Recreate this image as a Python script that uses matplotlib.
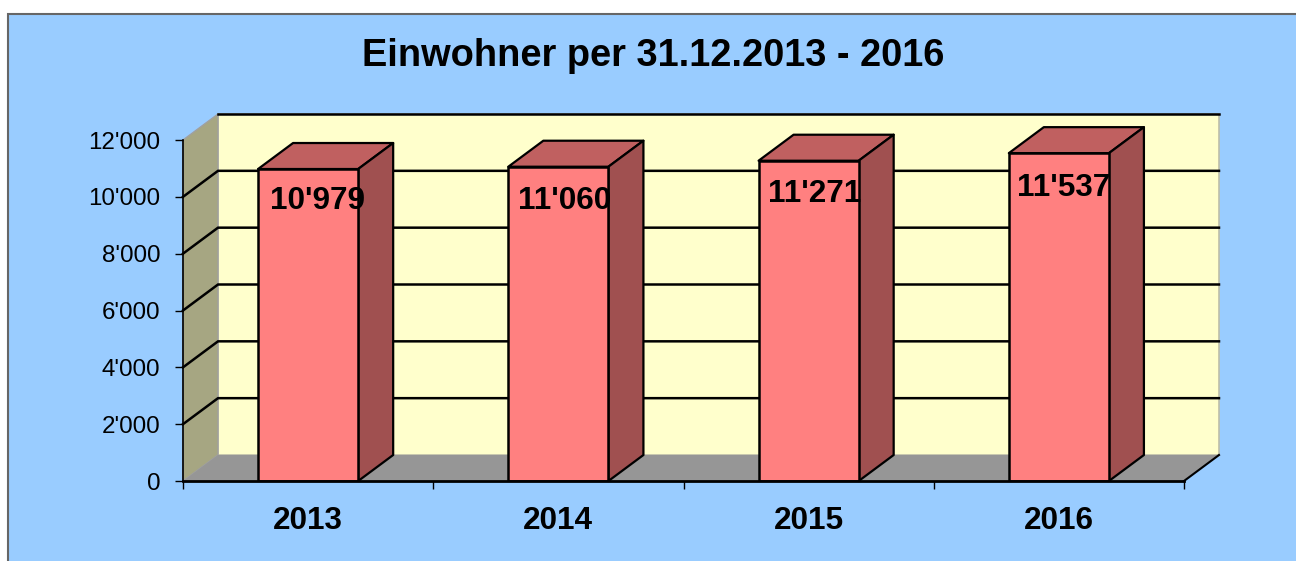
import matplotlib
matplotlib.use("Agg")
import matplotlib.pyplot as plt
from matplotlib.patches import Polygon, Rectangle
from matplotlib.ticker import FuncFormatter

plt.rcParams['font.family'] = ['Liberation Sans', 'DejaVu Sans']

jahre = ['2013', '2014', '2015', '2016']
einwohner = [10979, 11060, 11271, 11537]
werte_labels = ["10'979", "11'060", "11'271", "11'537"]
y_ticks = [0, 2000, 4000, 6000, 8000, 10000, 12000]
titel = "Einwohner per 31.12.2013 - 2016"

W, H = 1296, 561
fig = plt.figure(figsize=(W / 100, H / 100), dpi=100, facecolor='white')

# hintergrund mit rahmen
fig.add_artist(Rectangle((8 / W, -0.05), 1.1, 1 - 14 / H + 0.05, transform=fig.transFigure,
                         facecolor='#99CCFF', edgecolor='#666666', linewidth=1.5, zorder=-1))

ax = fig.add_axes([183 / W, (H - 481) / H, 1001 / W, 341 / H])
ax.patch.set_visible(False)
ax.set_xlim(0, 4)
ax.set_ylim(0, 12000)

# tiefe der 3d-darstellung in achseneinheiten
dx = 35 / 250.25
dy = 26 / 341 * 12000
breite = 0.4


def poly(pts, fc, ec='none', lw=0, z=1):
    ax.add_patch(Polygon(pts, closed=True, facecolor=fc, edgecolor=ec, linewidth=lw,
                         zorder=z, clip_on=False, joinstyle='round'))


# rueckwand, seitenwand, boden
poly([(dx, dy), (4 + dx, dy), (4 + dx, 12000 + dy), (dx, 12000 + dy)], '#FFFFCC', '#BEBEA8', 1.2, 1)
poly([(0, 0), (dx, dy), (dx, 12000 + dy), (0, 12000)], '#A6A682', '#A0A0A0', 1.0, 1.1)
poly([(0, 0), (4, 0), (4 + dx, dy), (dx, dy)], '#969696', z=1.2)

# gitterlinien
for v in y_ticks[1:-1]:
    ax.plot([0, dx, 4 + dx], [v, v + dy, v + dy], color='black', lw=1.8, zorder=2,
            clip_on=False, solid_joinstyle='miter')
ax.plot([dx, 4 + dx], [12000 + dy, 12000 + dy], color='black', lw=1.8, zorder=2, clip_on=False)
ax.plot([4, 4 + dx], [0, dy], color='black', lw=1.5, zorder=2, clip_on=False)

# saeulen
pos = [i + 0.5 for i in range(len(jahre))]
ax.bar(pos, einwohner, breite, color='#FF8080', edgecolor='black', linewidth=1.8, zorder=4)
for p, v in zip(pos, einwohner):
    l, r = p - breite / 2, p + breite / 2
    poly([(l, v), (r, v), (r + dx, v + dy), (l + dx, v + dy)], '#C06060', 'black', 1.6, 3.5)
    poly([(r, 0), (r + dx, dy), (r + dx, v + dy), (r, v)], '#A05050', 'black', 1.6, 3.5)

# labels sitzen nicht ganz regelmaessig, versatz in punkten
label_dx = [6.7, 4.2, 4.2, 3.1]
label_dy = [-23.0, -24.4, -23.7, -25.1]
for p, v, s, ox, oy in zip(pos, einwohner, werte_labels, label_dx, label_dy):
    ax.annotate(s, (p, v), xytext=(ox, oy), textcoords='offset points', ha='center',
                va='center', fontsize=22.7, fontweight='bold', color='black', zorder=6,
                annotation_clip=False)

# achsen
for s in ['top', 'right']:
    ax.spines[s].set_visible(False)
ax.spines['left'].set_linewidth(1.2)
ax.spines['left'].set_zorder(3)
ax.spines['bottom'].set_linewidth(2)
ax.spines['bottom'].set_zorder(5)

ax.set_yticks(y_ticks)
ax.yaxis.set_major_formatter(FuncFormatter(lambda v, _: f"{int(v):,}".replace(',', "'")))
ax.tick_params(axis='y', length=5.8, width=1, pad=10.5, labelsize=17.4, colors='black')
ax.set_xticks(range(len(jahre) + 1))
ax.set_xticklabels([])
ax.set_xticks(pos, minor=True)
ax.set_xticklabels(jahre, minor=True, fontsize=22.7, fontweight='bold')
ax.tick_params(axis='x', which='major', length=5.8, width=1)
ax.tick_params(axis='x', which='minor', length=0, pad=17.7)

fig.text(653 / W, 1 - 56 / H, titel, ha='center', va='center', fontsize=27.4, fontweight='bold')

fig.savefig('out.png', dpi=100)
